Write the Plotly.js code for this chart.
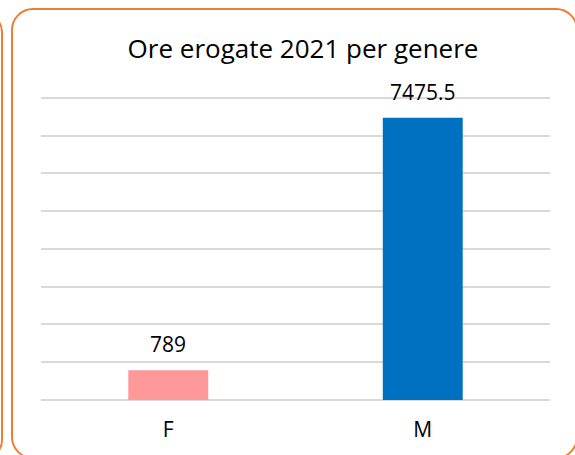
<!DOCTYPE html>
<html>
<head>
<meta charset="utf-8">
<script src="https://cdn.plot.ly/plotly-3.0.1.min.js"></script>
<style>
  html, body { margin: 0; padding: 0; width: 575px; height: 455px; overflow: hidden; background: #fff; }
  #chart { position: absolute; left: 0; top: 0; width: 575px; height: 455px; }
  .frame { position: absolute; box-sizing: border-box; border: 2.5px solid #ED7D31; border-radius: 22px; pointer-events: none; }
</style>
</head>
<body>
<div id="chart"></div>
<div class="frame" style="left:-300px; top:12px; width:303px; height:448px; border-radius:20px;"></div>
<div class="frame" style="left:11px; top:8px; width:567px; height:451px;"></div>
<script>
const categories = ["F", "M"];
const hours = [789, 7475.5];
const labels = ["789", "7475.5"];
const barColors = ["#FF9999", "#0070C0"];
const chartTitle = "Ore erogate 2021 per genere";

const FONT = "'Open Sans', 'Noto Sans', sans-serif";

const trace = {
  type: "bar",
  x: categories,
  y: hours,
  marker: { color: barColors },
  hoverinfo: "none"
};

const annotations = categories.map((c, i) => ({
  x: c,
  y: hours[i],
  xref: "x",
  yref: "y",
  text: labels[i],
  showarrow: false,
  yanchor: "middle",
  yshift: 26,
  font: { family: FONT, size: 21, color: "#000000" }
}));

const layout = {
  width: 575,
  height: 455,
  margin: { l: 41, r: 25, t: 96, b: 55, pad: 0 },
  paper_bgcolor: "#ffffff",
  plot_bgcolor: "#ffffff",
  showlegend: false,
  bargap: 0.686,
  title: {
    text: chartTitle,
    font: { family: FONT, size: 26, color: "#000000" },
    x: 296 / 575,
    xref: "paper",
    xanchor: "center",
    y: 1 - 49 / 455,
    yref: "container",
    yanchor: "middle"
  },
  xaxis: {
    type: "category",
    showgrid: false,
    showline: false,
    ticks: "",
    ticklabelstandoff: 15,
    tickfont: { family: FONT, size: 21, color: "#000000" },
    fixedrange: true
  },
  yaxis: {
    range: [0, 8050],
    dtick: 1000,
    tick0: 0,
    showticklabels: false,
    ticks: "",
    showgrid: true,
    gridcolor: "#D9D9D9",
    gridwidth: 2,
    zeroline: true,
    zerolinecolor: "#D9D9D9",
    zerolinewidth: 2,
    showline: false,
    fixedrange: true
  },
  annotations: annotations
};

Plotly.newPlot("chart", [trace], layout, { displayModeBar: false, staticPlot: true });
</script>
</body>
</html>
